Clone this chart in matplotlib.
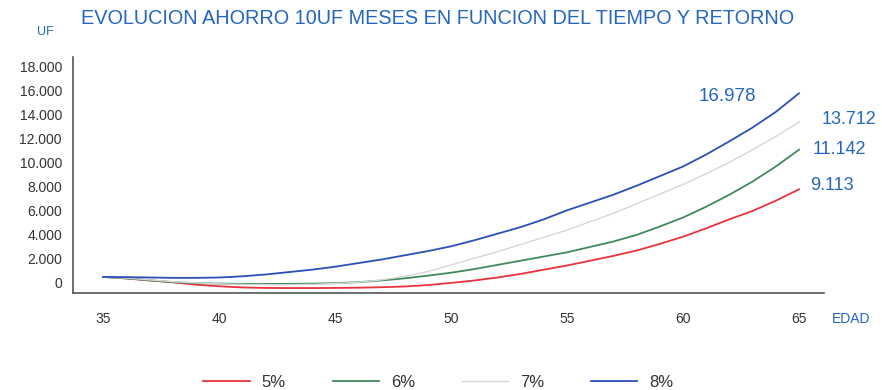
import matplotlib
matplotlib.use("Agg")
import matplotlib.pyplot as plt
from matplotlib.ticker import FuncFormatter

plt.rcParams['font.family'] = ['Liberation Sans', 'DejaVu Sans']

edad = list(range(35, 66))

ret_5 = [500, 370, 200, 50, -150, -280, -380, -420, -430, -430, -420,
         -400, -360, -300, -180, 0, 200, 450, 750, 1100, 1450,
         1850, 2250, 2700, 3250, 3850, 4550, 5300, 6000, 6850, 7800]
ret_6 = [500, 380, 220, 60, -20, -60, -80, -90, -80, -60, -20,
         60, 200, 380, 600, 850, 1150, 1500, 1850, 2200, 2550,
         3000, 3450, 4000, 4700, 5450, 6350, 7350, 8450, 9700, 11100]
ret_7 = [500, 400, 250, 100, 0, -80, -130, -150, -150, -120, -50,
         50, 250, 550, 950, 1500, 2050, 2600, 3200, 3800, 4400,
         5100, 5800, 6600, 7400, 8200, 9100, 10050, 11100, 12200, 13400]
ret_8 = [500, 480, 450, 420, 420, 450, 550, 700, 900, 1100, 1350,
         1650, 1950, 2300, 2650, 3050, 3550, 4100, 4650, 5300, 6050,
         6700, 7350, 8100, 8900, 9700, 10700, 11800, 12950, 14250, 15800]

series_labels = ['5%', '6%', '7%', '8%']
final_labels = ['9.113', '11.142', '13.712', '16.978']

colores = ['#e8333c', '#3f8a5c', '#d6d6d6', '#2b4fb8']
anchos = [1.3, 1.3, 1.0, 1.3]
azul = '#2466c0'

fig = plt.figure(figsize=(8.82, 3.9), dpi=100)
ax = fig.add_axes([0.0828, 0.249, 0.852, 0.605])

for serie, lab, col, lw in zip([ret_5, ret_6, ret_7, ret_8], series_labels, colores, anchos):
    ax.plot(edad, serie, color=col, lw=lw, label=lab)

ax.set_xlim(33.7, 66.1)
ax.set_ylim(-833, 18833)
ax.set_xticks([35, 40, 45, 50, 55, 60, 65])
ax.set_yticks(range(0, 18001, 2000))
ax.yaxis.set_major_formatter(FuncFormatter(lambda v, p: '{:,.0f}'.format(v).replace(',', '.')))
ax.tick_params(length=0, labelsize=10, colors='#333333')
ax.tick_params(axis='x', pad=14)
ax.tick_params(axis='y', pad=8)
for s in ['top', 'right']:
    ax.spines[s].set_visible(False)
for s in ['left', 'bottom']:
    ax.spines[s].set_color('#555555')
    ax.spines[s].set_linewidth(1.2)

# etiquetas de valores finales
ax.annotate(final_labels[3], xy=(edad[-1], ret_8[-1]), xytext=(-72, -2), textcoords='offset points',
            color=azul, fontsize=13.5, va='center')
ax.annotate(final_labels[2], xy=(edad[-1], ret_7[-1]), xytext=(16, 2), textcoords='offset points',
            color=azul, fontsize=13, va='center')
ax.annotate(final_labels[1], xy=(edad[-1], ret_6[-1]), xytext=(10, 0), textcoords='offset points',
            color=azul, fontsize=13, va='center')
ax.annotate(final_labels[0], xy=(edad[-1], ret_5[-1]), xytext=(8, 3), textcoords='offset points',
            color=azul, fontsize=13, va='center')

fig.text(0.092, 0.952, 'EVOLUCION AHORRO 10UF MESES EN FUNCION DEL TIEMPO Y RETORNO',
         color=azul, fontsize=14.3, va='center', ha='left')
fig.text(0.051, 0.918, 'UF', color=azul, fontsize=9, va='center', ha='center')
fig.text(0.965, 0.183, 'EDAD', color=azul, fontsize=10, va='center', ha='center')

leg = fig.legend(loc='lower center', bbox_to_anchor=(0.497, -0.038), ncol=4, frameon=False,
                 fontsize=12, handlelength=2.8, columnspacing=2.8, handletextpad=0.7)
for t in leg.get_texts():
    t.set_color('#333333')

fig.savefig('out.png', dpi=100)
